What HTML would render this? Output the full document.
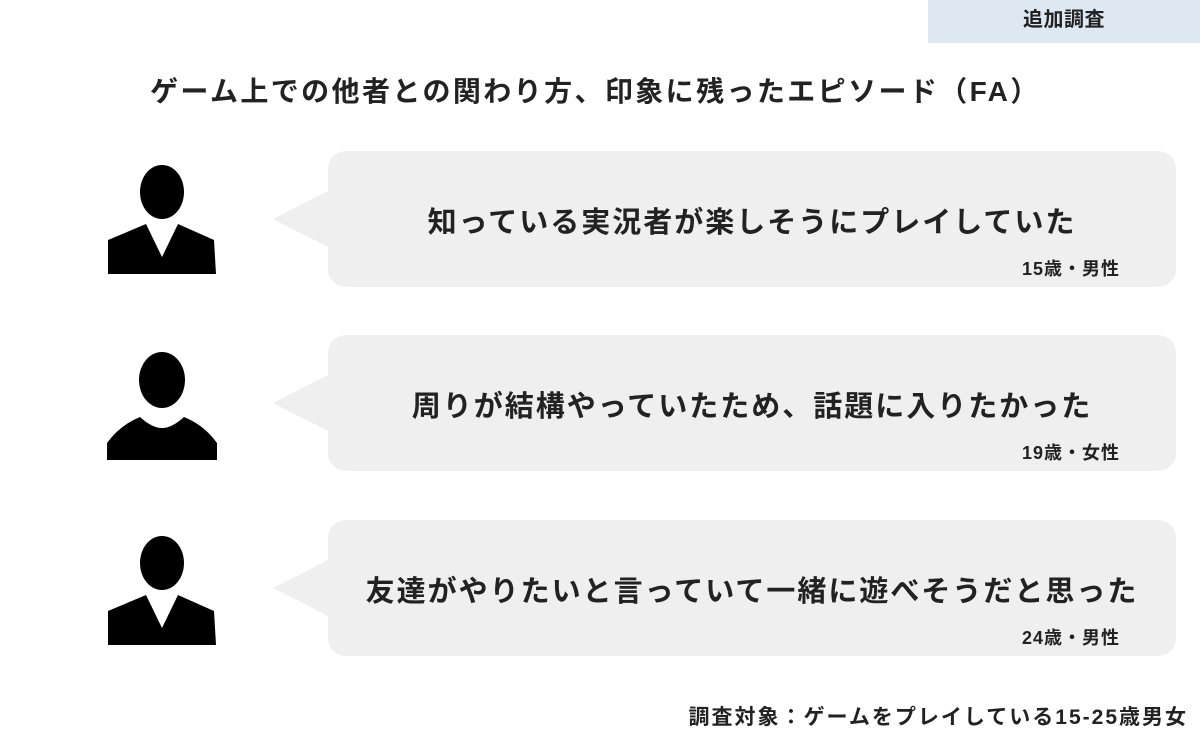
<!DOCTYPE html>
<html><head><meta charset="utf-8"><style>
body{margin:0;width:1200px;height:741px;background:#fff;position:relative;overflow:hidden;font-family:"Liberation Sans","Noto Sans CJK JP",sans-serif;font-weight:bold;color:#222}
.tag{position:absolute;left:928px;top:0;width:272px;height:43px;background:#dde8f3;text-align:center;line-height:41px;font-size:20px;letter-spacing:0.5px}
.title{position:absolute;left:150px;top:70px;font-size:28px;letter-spacing:2.4px;white-space:nowrap}
.b{position:absolute;left:328px;width:848px;height:136px;background:#efefef;border-radius:18px}
.b .t{position:absolute;left:0;right:0;top:48px;text-align:center;font-size:29px;letter-spacing:2px;white-space:nowrap}
.b .a{position:absolute;right:56px;top:104px;font-size:18px;letter-spacing:1px}
.foot{position:absolute;right:12px;top:701px;font-size:21px;letter-spacing:2px}
svg{position:absolute;left:0;top:0}
</style></head><body>
<div class="tag">追加調査</div>
<div class="title">ゲーム上での他者との関わり方、印象に残ったエピソード（FA）</div>
<svg width="1200" height="741">
<g fill="#efefef">
<polygon points="273,219 330,190 330,248"/>
<polygon points="273,403 330,374 330,432"/>
<polygon points="273,588 330,559 330,617"/>
</g>
<g fill="#000">
<ellipse cx="162" cy="192" rx="22" ry="27"/>
<path d="M108,240 L146,224 L162,257 L178,224 L214,240 L216,274 L108,274 Z"/>
<ellipse cx="162" cy="380" rx="23" ry="28"/>
<path d="M107,443 Q120,425 140,417 Q152,428 162,428 Q172,428 184,417 Q204,425 217,443 L217,460 L107,460 Z"/>
<ellipse cx="162" cy="563" rx="22" ry="27"/>
<path d="M108,611 L146,595 L162,628 L178,595 L214,611 L216,645 L108,645 Z"/>
</g>
</svg>
<div class="b" style="top:151px"><div class="t">知っている実況者が楽しそうにプレイしていた</div><div class="a">15歳・男性</div></div>
<div class="b" style="top:335px"><div class="t">周りが結構やっていたため、話題に入りたかった</div><div class="a">19歳・女性</div></div>
<div class="b" style="top:520px"><div class="t">友達がやりたいと言っていて一緒に遊べそうだと思った</div><div class="a">24歳・男性</div></div>
<div class="foot">調査対象：ゲームをプレイしている15-25歳男女</div>
</body></html>
